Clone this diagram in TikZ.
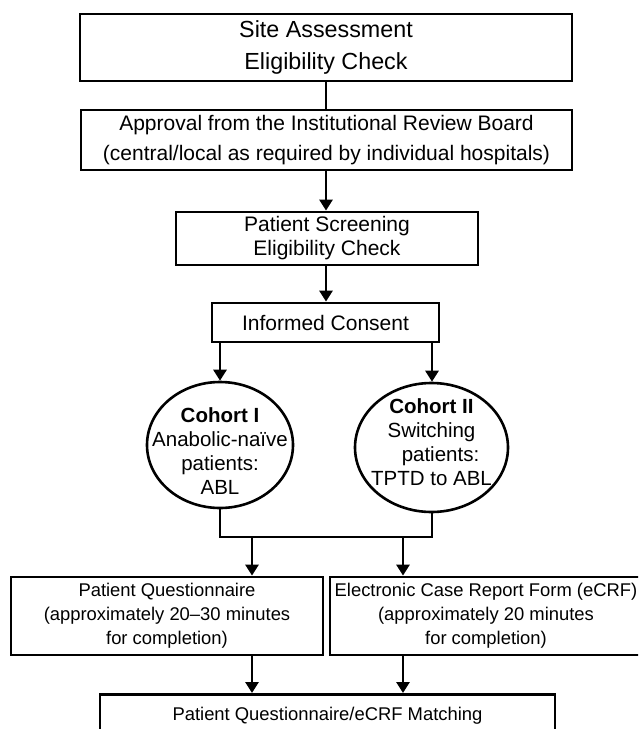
\documentclass[tikz,border=0pt]{standalone}
\usepackage{fontspec}
\setmainfont{Liberation Sans}
\usetikzlibrary{shapes.geometric,arrows.meta}
\begin{document}
\begin{tikzpicture}[x=1pt,y=-1pt,
  box/.style={draw=black, line width=2.8pt, rectangle, inner sep=0pt, align=center, text=black},
  oval/.style={draw=black, line width=2.6pt, ellipse, inner sep=0pt},
  ovaltext/.style={inner sep=0pt, align=center, text=black, font=\fontsize{20.5pt}{24pt}\selectfont},
  link/.style={line width=2.9pt, draw=black},
  arr/.style={link, -{Triangle[width=13pt,length=11pt]}},
]
\useasboundingbox (0,0) rectangle (638,729);
\clip (0,0) rectangle (638,729);
\fill[white] (0,0) rectangle (638,729);

\node[box, minimum width=492pt, minimum height=67pt, font=\fontsize{23.3pt}{32pt}\selectfont]
  (b1) at (326,47.5) {Site Assessment\\Eligibility Check};
\node[box, minimum width=491pt, minimum height=60pt, font=\fontsize{21pt}{30pt}\selectfont]
  (b2) at (326.5,140) {Approval from the Institutional Review Board\\(central/local as required by individual hospitals)};
\node[box, minimum width=302pt, minimum height=53pt, font=\fontsize{21pt}{24pt}\selectfont]
  (b3) at (327,238.5) {Patient Screening\\Eligibility Check};
\node[box, minimum width=227pt, minimum height=39pt, font=\fontsize{21pt}{24pt}\selectfont]
  (ic) at (325.5,322.5) {Informed Consent};

\node[oval, minimum width=146pt, minimum height=126pt] (e1) at (220,445) {};
\node[ovaltext] (t1) at (220,451)
  {\textbf{Cohort I}\\Anabolic-na\"ive\\patients:\\ABL};
\node[oval, minimum width=153pt, minimum height=129pt] (e2) at (431.5,447.5) {};
\node[ovaltext] (t2) at (431.5,442)
  {\textbf{Cohort II}\\Switching\\\hspace*{18pt}patients:\\TPTD to ABL};

\node[box, minimum width=312pt, minimum height=78pt, font=\fontsize{18.4pt}{24pt}\selectfont]
  (pq) at (167,616) {Patient Questionnaire\\(approximately 20--30 minutes\\for completion)};
\node[box, minimum width=312pt, minimum height=78pt, font=\fontsize{18.4pt}{24pt}\selectfont]
  (ec) at (486,616) {Electronic Case Report Form (eCRF)\\(approximately 20 minutes\\for completion)};
\node[box, anchor=north, minimum width=455pt, text height=13pt, text depth=4pt, inner ysep=13pt,
  font=\fontsize{18.4pt}{24pt}\selectfont]
  (fin) at (327.5,693) {Patient Questionnaire/eCRF Matching};

\coordinate (jl) at (220,537);
\coordinate (jr) at (432,537);
\coordinate (a1) at (252,537);
\coordinate (a2) at (403,537);

\draw[link] (b1.south) -- (b1.south |- b2.north);
\draw[arr] (b2.south -| b1.south) -- (b3.north -| b1.south);
\draw[arr] (b3.south -| b1.south) -- (ic.north -| b1.south);
\draw[arr] (ic.south -| e1.north) -- (e1.north);
\draw[arr] (ic.south -| jr) -- (e2.north -| jr);
\draw[link] (e1.south) -- (jl) -- (jr) -- (e2.south -| jr);
\draw[arr] (a1) -- (a1 |- pq.north);
\draw[arr] (a2) -- (a2 |- ec.north);
\draw[arr] (a1 |- pq.south) -- (a1 |- fin.north);
\draw[arr] (a2 |- ec.south) -- (a2 |- fin.north);
\end{tikzpicture}
\end{document}
